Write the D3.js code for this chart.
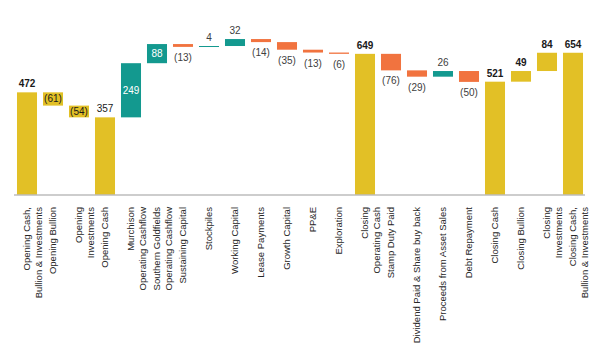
<!DOCTYPE html>
<html>
<head>
<meta charset="utf-8">
<script src="https://cdn.jsdelivr.net/npm/d3@7"></script>
<style>
  html, body { margin: 0; padding: 0; background: #fff; }
  svg { display: block; font-family: "Liberation Sans", Arial, sans-serif; }
</style>
</head>
<body>
<div id="chart"></div>
<script>
// categories (each entry = lines of the rotated tick label)
const categories = [
    ["Opening Cash,", "Bullion & Investments"],
    ["Opening Bullion"],
    ["Opening", "Investments"],
    ["Opening Cash"],
    ["Murchison", "Operating Cashflow"],
    ["Southern Goldfields", "Operating Cashflow"],
    ["Sustaining Capital"],
    ["Stockpiles"],
    ["Working Capital"],
    ["Lease Payments"],
    ["Growth Capital"],
    ["PP&E"],
    ["Exploration"],
    ["Closing", "Operating Cash"],
    ["Stamp Duty Paid"],
    ["Dividend Paid & Share buy back"],
    ["Proceeds from Asset Sales"],
    ["Debt Repayment"],
    ["Closing Cash"],
    ["Closing Bullion"],
    ["Closing", "Investments"],
    ["Closing Cash,", "Bullion & Investments"]
];

// value of each step (totals are absolute, others are changes)
const values = [472, -61, -54, 357, 249, 88, -13, 4, 32, -14, -35, -13, -6, 649, -76, -29, 26, -50, 521, 49, 84, 654];

// kind of each step: total, part (bullion/investments), change
const kinds = ["total", "part", "part", "total", "change", "change", "change", "change", "change", "change", "change",
    "change", "change", "total", "change", "change", "change", "change", "total", "part", "part", "total"];

const colors = { total: "#e2c026", part: "#e2c026", up: "#13998f", down: "#f1733f" };

const width = 599, height = 351;
const svg = d3.select("#chart").append("svg")
    .attr("width", width)
    .attr("height", height);

const x = d3.scaleBand()
    .domain(d3.range(categories.length))
    .range([14, 586])
    .paddingInner(0.23)
    .paddingOuter(0.115);

const y = d3.scaleLinear().domain([0, 800]).range([195, 21]);

// build the floating segments
let running = 0;
const steps = values.map((v, i) => {
    let lo, hi;
    if (kinds[i] === "total") {
        lo = 0; hi = v; running = v;
    } else {
        const start = running;
        running = start + v;
        lo = Math.min(start, running);
        hi = Math.max(start, running);
    }
    return { i, v, kind: kinds[i], lo, hi };
});

const fillOf = d => d.kind === "change" ? (d.v >= 0 ? colors.up : colors.down) : colors[d.kind];

svg.append("g")
    .selectAll("rect")
    .data(steps)
    .join("rect")
    .attr("x", d => x(d.i))
    .attr("width", x.bandwidth())
    .attr("y", d => y(d.hi))
    .attr("height", d => Math.max(1, y(d.lo) - y(d.hi)))
    .attr("fill", fillOf);

// baseline
svg.append("line")
    .attr("x1", 14).attr("x2", 585)
    .attr("y1", y(0)).attr("y2", y(0))
    .attr("stroke", "#bdbdbd")
    .attr("stroke-width", 1.5);

const fmt = v => v < 0 ? `(${-v})` : `${v}`;

// value labels
svg.append("g")
    .selectAll("text")
    .data(steps)
    .join("text")
    .attr("text-anchor", "middle")
    .attr("font-size", 10)
    .attr("x", d => x(d.i) + x.bandwidth() / 2)
    .attr("y", d => {
        const h = y(d.lo) - y(d.hi);
        if (d.kind === "part" && d.v < 0) return (y(d.lo) + y(d.hi)) / 2 + 3.5;
        if (d.kind === "change" && d.v > 0 && h > 15) return (y(d.lo) + y(d.hi)) / 2 + 3.5;
        if (d.kind === "change" && d.v < 0) return y(d.lo) + 14;
        return y(d.hi) - 5;
    })
    .attr("fill", d => {
        const h = y(d.lo) - y(d.hi);
        if (d.kind === "change" && d.v > 0 && h > 15) return "#ffffff";
        if (d.kind === "change") return "#404040";
        return "#1a1a1a";
    })
    .attr("font-weight", d => (d.kind === "total" && d.i !== 3) || (d.kind === "part" && d.v > 0) ? "bold" : "normal")
    .text(d => fmt(d.v));

// rotated category labels
const labels = svg.append("g")
    .selectAll("text")
    .data(categories)
    .join("text")
    .attr("transform", (d, i) => `translate(${x(i) + x.bandwidth() / 2},207) rotate(-90)`)
    .attr("text-anchor", "end")
    .attr("font-size", 9.5)
    .attr("fill", "#262626");

labels.selectAll("tspan")
    .data(d => d)
    .join("tspan")
    .attr("x", 0)
    .attr("dy", (d, j) => j === 0 ? "0.35em" : "1.2em")
    .text(d => d);
</script>
</body>
</html>
